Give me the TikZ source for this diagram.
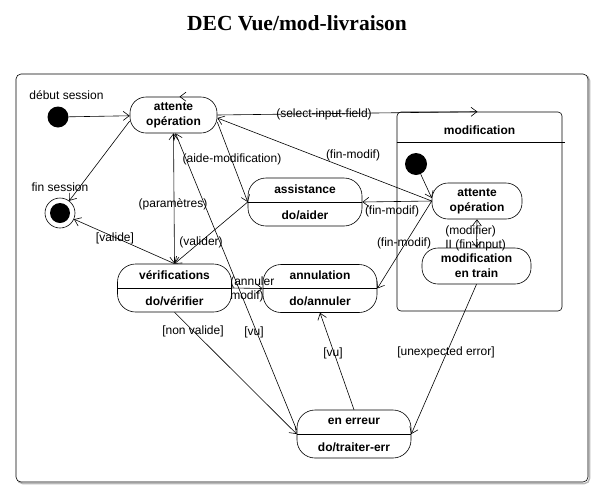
\documentclass[tikz,border=0pt]{standalone}
\usepackage{fontspec}
\setmainfont{Liberation Sans}
\newfontfamily\titlefont{Liberation Serif}
\usetikzlibrary{arrows.meta, calc, positioning}

\tikzset{
   etat/.style={draw, rounded corners=16pt, minimum width=#1, minimum height=36pt,
      inner sep=0pt, align=center, font=\bfseries\fontsize{12}{15}\selectfont},
   etat/.default=87pt,
   etatdo/.style={draw, rounded corners=18pt, minimum width=114pt, minimum height=48pt, inner sep=0pt},
   nomdo/.style={font=\bfseries\fontsize{12}{15}\selectfont, inner sep=0pt},
   lbl/.style={font=\fontsize{12}{14}\selectfont, inner sep=0pt, align=left},
   trans/.style={-{Straight Barb[length=6pt,width=9pt]}, line width=0.6pt},
   bitrans/.style={{Straight Barb[length=6pt,width=9pt]}-{Straight Barb[length=6pt,width=9pt]}, line width=0.6pt},
   depart/.style={circle, fill, minimum size=#1, inner sep=0pt},
   arrivee/.style={circle, draw, minimum size=30pt, inner sep=0pt,
      path picture={\fill (path picture bounding box.center) circle (10pt);}}
}

% state with an activity compartment
\newcommand{\etatDo}[4]{%
   \node[etatdo] (#1) at (#2) {};
   \draw (#1.west) -- (#1.east);
   \node[nomdo] at ([yshift=13pt]#1.center) {#3};
   \node[nomdo] at ([yshift=-13pt]#1.center) {#4};
}

\begin{document}
\begin{tikzpicture}[x=1pt, y=-1pt, line width=0.6pt]
            \useasboundingbox (0,0) rectangle (604,498);
            % Title and frame
            \node[font=\titlefont\bfseries\fontsize{21.5}{25}\selectfont] (titre) at (297,23) {DEC Vue/mod-livraison};
            \draw[gray!55, line width=1.5pt, rounded corners=5pt] (17.5,75.5) rectangle (589.5,483.5);
            \draw[rounded corners=5pt, fill=white] (16,74) rectangle (588,482);
            % Initial and final states
            \node[depart=21pt] (debut) at (58,117) {};
            \node[lbl] at (66.5,95.5) {début session};
            \node[arrivee] (fin) at (60,213) {};
            \node[lbl] at (60,187) {fin session};
            % Simple states
            \node[etat] (attente) at (173.5,115) {attente\\opération};
            \etatDo{assist}{305,202}{assistance}{do/aider}
            \etatDo{verif}{174.5,288}{vérifications}{do/vérifier}
            \etatDo{annul}{320,288.5}{annulation}{do/annuler}
            \etatDo{erreur}{354,434}{en erreur}{do/traiter-err}
            % Composite state: modification
            \node[draw, rounded corners=4pt, minimum width=165pt, minimum height=199pt] (modif) at (479.5,211.5) {};
            \draw ([yshift=-31pt]modif.north west) -- ([xshift=3pt,yshift=-31pt]modif.north east);
            \node[nomdo] at ([yshift=-19pt]modif.north) {modification};
            \node[depart=22pt] (debut2) at (416,164) {};
            \node[etat=90pt] (attente2) at (477,201) {attente\\opération};
            \node[etat=109pt] (train) at (476.5,266) {modification\\en train};
            % Transitions
            \draw[trans] (debut) -- (attente);
            \draw[trans] ([xshift=7pt]attente.north) -- ([xshift=6pt]attente.north);
            \draw[trans] ([yshift=-6pt]attente.west) -- (fin);
            \draw[bitrans] (attente.south) -- (verif.north);
            \node[lbl] at (173,204) {(paramètres)};
            \draw[trans] ([yshift=-7pt]attente.east) -- (assist.west);
            \node[lbl] at (232,159) {(aide-modification)};
            \draw[trans] (assist.west) -- (verif.north);
            \node[lbl] at (201,242) {(valider)};
            \draw[trans] (verif.north) -- (fin);
            \node[lbl] at (115,238) {[valide]};
            \draw[trans] (attente.east) -- ([xshift=-2pt]modif.north);
            \node[lbl] at (324,114) {(select-input-field)};
            \draw[trans] (attente2.west) -- ([yshift=-3pt]attente.east);
            \node[lbl] at (353,155) {(fin-modif)};
            \draw[trans] (attente2.west) -- (assist.east);
            \node[lbl] at (392,211) {(fin-modif)};
            \draw[trans] (attente2.west) -- (annul.east);
            \node[lbl] at (404,243) {(fin-modif)};
            \draw[trans] (verif.east) -- (annul.west);
            \node[lbl, anchor=west] at (230,289) {(annuler\\modif)};
            \draw[trans] (verif.south) -- (erreur.west);
            \node[lbl] at (193,331) {[non valide]};
            \draw[trans] ([yshift=4pt]erreur.west) -- ([xshift=2pt]attente.south);
            \node[lbl] at (254,332) {[vu]};
            \draw[trans] (erreur.north) -- (annul.south);
            \node[lbl] at (333,353) {[vu]};
            \draw[trans] (train.south) -- (erreur.east);
            \node[lbl] at (446,352) {[unexpected error]};
            \draw[trans] (debut2) -- ([yshift=3pt]attente2.west);
            \draw[bitrans] (attente2.south) -- (train.north);
            \node[lbl, anchor=west] at (445,238) {(modifier)\\II (fin-input)};
\end{tikzpicture}
\end{document}
